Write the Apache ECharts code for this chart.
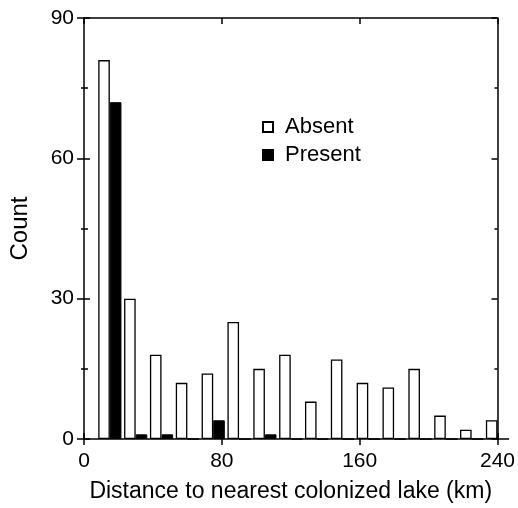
<!DOCTYPE html>
<html>
<head>
<meta charset="UTF-8">
<title>Distance to nearest colonized lake</title>
<script type="text/javascript" src="https://cdn.jsdelivr.net/npm/echarts@6/dist/echarts.min.js"></script>
<style>
  html, body { margin: 0; padding: 0; background: #fff; }
  #main { width: 518px; height: 508px; }
</style>
</head>
<body>
<div id="main"></div>
<script type="text/javascript">
  // bin centres (km) and counts
  var distances = [15, 30, 45, 60, 75, 90, 105, 120, 135, 150, 165, 180, 195, 210, 225, 240];
  var absent = [81, 30, 18, 12, 14, 25, 15, 18, 8, 17, 12, 11, 15, 5, 2, 4];
  var present = [72, 1, 1, 0, 4, 0, 1, 0, 0, 0, 0, 0, 0, 0, 0, 0];
  var xTicks = [0, 80, 160, 240];
  var yTicks = [0, 30, 60, 90];

  var font = '"Liberation Sans", Arial, Helvetica, sans-serif';

  var myChart = echarts.init(document.getElementById('main'));

  function pairs(vals) {
    return distances.map(function (d, i) { return [d, vals[i]]; });
  }

  // extra frame axes, no labels, only for the ticks
  function frameX(pos, inside) {
    return {
      type: 'value', position: pos, min: 0, max: 240, interval: 80,
      axisLine: { show: false },
      axisTick: { show: true, inside: inside, length: 6, lineStyle: { color: '#000', width: 1.5 } },
      axisLabel: { show: false }, splitLine: { show: false }
    };
  }
  function frameY(pos, inside, len, minorLen) {
    return {
      type: 'value', position: pos, min: 0, max: 90, interval: 30,
      axisLine: { show: false },
      axisTick: { show: true, inside: inside, length: len, lineStyle: { color: '#000', width: 1.5 } },
      minorTick: { show: true, splitNumber: 2, length: minorLen, lineStyle: { color: '#000', width: 1.5 } },
      axisLabel: { show: false }, splitLine: { show: false }
    };
  }

  var option = {
    animation: false,
    backgroundColor: '#fff',
    textStyle: { fontFamily: font },
    grid: { left: 82, right: 19.5, top: 18, bottom: 68, containLabel: false },
    legend: {
      orient: 'vertical',
      left: 257, top: 111,
      itemWidth: 10, itemHeight: 10,
      itemGap: 6,
      icon: 'rect',
      data: ['Absent', 'Present'],
      textStyle: { fontFamily: font, fontSize: 22, color: '#000', lineHeight: 22, padding: [0, 0, 0, 7] }
    },
    xAxis: [
      {
        type: 'value', position: 'bottom', min: 0, max: 240, interval: 80,
        name: 'Distance to nearest colonized lake (km)',
        nameLocation: 'middle', nameGap: 41,
        nameTextStyle: { fontFamily: font, fontSize: 23, color: '#000' },
        axisLine: { show: true, onZero: false, lineStyle: { color: '#000', width: 1.5 } },
        axisTick: { show: true, length: 6, lineStyle: { color: '#000', width: 1.5 } },
        axisLabel: { fontFamily: font, fontSize: 21, color: '#000', margin: 12,
          formatter: function (v) { return xTicks.indexOf(v) >= 0 ? String(v) : ''; } },
        splitLine: { show: false }
      },
      {
        type: 'value', position: 'top', min: 0, max: 240, interval: 80,
        axisLine: { show: true, onZero: false, lineStyle: { color: '#000', width: 1.5 } },
        axisTick: { show: true, inside: true, length: 6, lineStyle: { color: '#000', width: 1.5 } },
        axisLabel: { show: false }, splitLine: { show: false }
      },
      frameX('top', false)
    ],
    yAxis: [
      {
        type: 'value', position: 'left', min: 0, max: 90, interval: 30,
        name: 'Count',
        nameLocation: 'middle', nameGap: 52,
        nameTextStyle: { fontFamily: font, fontSize: 24, color: '#000' },
        axisLine: { show: true, onZero: false, lineStyle: { color: '#000', width: 1.5 } },
        axisTick: { show: true, length: 7, lineStyle: { color: '#000', width: 1.5 } },
        minorTick: { show: true, splitNumber: 2, length: 3, lineStyle: { color: '#000', width: 1.5 } },
        axisLabel: { fontFamily: font, fontSize: 21, color: '#000', margin: 10,
          formatter: function (v) { return yTicks.indexOf(v) >= 0 ? String(v) : ''; } },
        splitLine: { show: false }
      },
      frameY('left', true, 4, 4),
      {
        type: 'value', position: 'right', min: 0, max: 90, interval: 30,
        axisLine: { show: true, onZero: false, lineStyle: { color: '#000', width: 1.5 } },
        axisTick: { show: true, inside: true, length: 6, lineStyle: { color: '#000', width: 1.5 } },
        minorTick: { show: true, splitNumber: 2, length: 3, lineStyle: { color: '#000', width: 1.5 } },
        axisLabel: { show: false }, splitLine: { show: false }
      },
      frameY('right', false, 6, 3)
    ],
    series: [
      {
        name: 'Absent',
        type: 'bar',
        xAxisIndex: 0, yAxisIndex: 0,
        barWidth: 11.6,
        barGap: '0%',
        itemStyle: { color: '#fff', borderColor: '#000', borderWidth: 1.3 },
        data: pairs(absent)
      },
      {
        name: 'Present',
        type: 'bar',
        xAxisIndex: 0, yAxisIndex: 0,
        barWidth: 11.6,
        barGap: '0%',
        itemStyle: { color: '#000', borderColor: '#000', borderWidth: 1 },
        data: pairs(present)
      }
    ]
  };

  myChart.setOption(option);
</script>
</body>
</html>
